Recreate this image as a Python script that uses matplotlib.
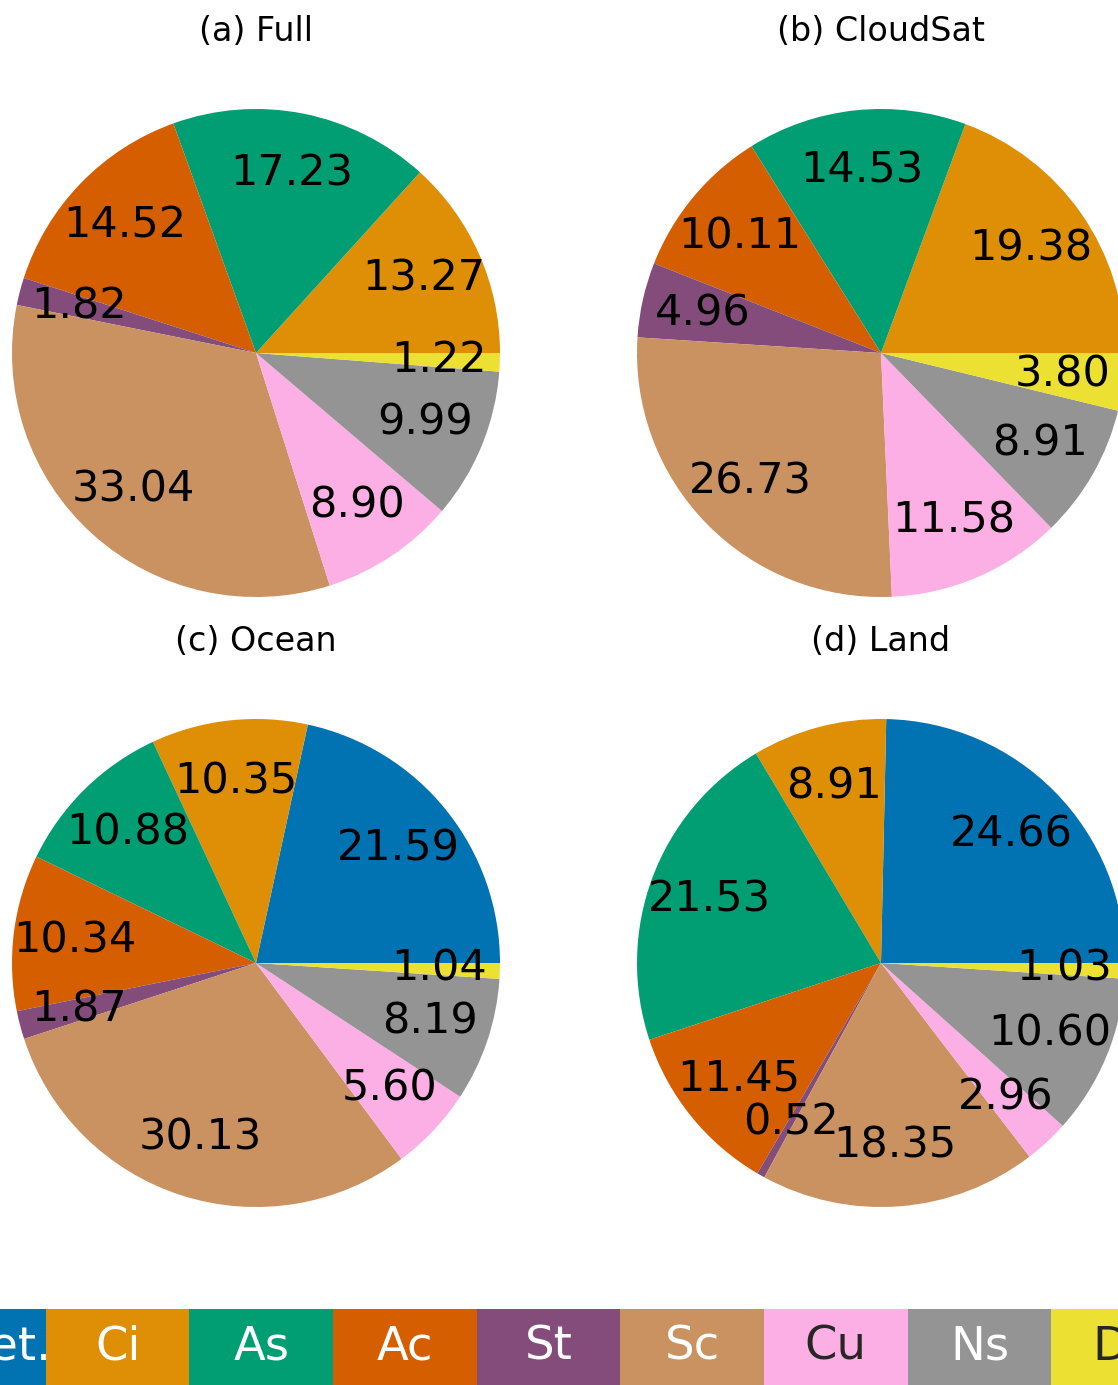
import numpy as np
import matplotlib
matplotlib.use('Agg')
import matplotlib.pyplot as plt
from matplotlib.colors import to_rgb

# cloud classes and colours
classes = ['Undet.', 'Ci', 'As', 'Ac', 'St', 'Sc', 'Cu', 'Ns', 'Dc']
colors = ['#0173b2', '#de8f05', '#029e73', '#d55e00', '#834c7b',
          '#ca9161', '#fbafe4', '#949494', '#ece133']

# occurrence (%) for each subset
full = [0.00, 13.27, 17.23, 14.52, 1.82, 33.04, 8.90, 9.99, 1.22]
cloudsat = [0.00, 19.38, 14.53, 10.11, 4.96, 26.73, 11.58, 8.91, 3.80]
ocean = [21.59, 10.35, 10.88, 10.34, 1.87, 30.13, 5.60, 8.19, 1.04]
land = [24.66, 8.91, 21.53, 11.45, 0.52, 18.35, 2.96, 10.60, 1.03]

titles = ['(a) Full', '(b) CloudSat', '(c) Ocean', '(d) Land']
subsets = [full, cloudsat, ocean, land]

W, H = 1118, 1385
fig = plt.figure(figsize=(W / 100, H / 100), dpi=100)

# pie centres in pixels, radius 244 px -> axes 610 px (pie limits +-1.25)
centres = [(256, 353), (881, 353), (256, 963), (881, 963)]
half = 305


def make_autopct(vals):
    it = iter(vals)

    def fmt(p):
        return '%.2f' % next(it)
    return fmt


for (cx, cy), vals, title in zip(centres, subsets, titles):
    ax = fig.add_axes([(cx - half) / W, (H - cy - half) / H, 2 * half / W, 2 * half / H])
    keep = [i for i, v in enumerate(vals) if v > 0]
    v = [vals[i] for i in keep]
    c = [colors[i] for i in keep]
    ax.pie(v, colors=c, startangle=0, counterclock=True,
           autopct=make_autopct(v), pctdistance=0.75,
           textprops={'fontsize': 31, 'color': 'black'})
    ax.set_xlim(-1.25, 1.25)
    ax.set_ylim(-1.25, 1.25)
    ax.set_title(title, fontsize=24, pad=5)

# colour key along the bottom
left, seg = -97.9, 143.65
cax = fig.add_axes([left / W, 0, seg * len(classes) / W, 76 / H])
cax.bar(np.arange(len(classes)), 1, width=1, color=colors)
cax.set_xlim(-0.5, len(classes) - 0.5)
cax.set_ylim(0, 1)
cax.axis('off')
for i, (name, col) in enumerate(zip(classes, colors)):
    rgb = np.array(to_rgb(col))
    lin = np.where(rgb <= 0.03928, rgb / 12.92, ((rgb + 0.055) / 1.055) ** 2.4)
    lum = 0.2126 * lin[0] + 0.7152 * lin[1] + 0.0722 * lin[2]
    tcol = '#262626' if lum > 0.408 else 'white'
    cax.text(i, 0.5, name, ha='center', va='center', fontsize=33.5, color=tcol)

fig.savefig('out.png', dpi=100)
